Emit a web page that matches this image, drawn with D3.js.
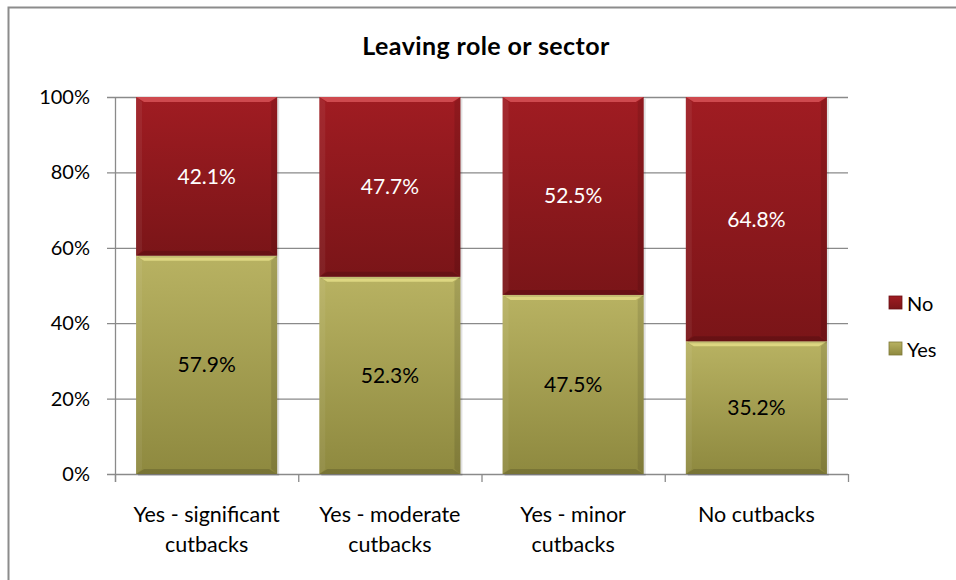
<!DOCTYPE html>
<html><head><meta charset="utf-8">
<script src="https://cdn.jsdelivr.net/npm/d3@7"></script>
<style>body{margin:0;background:#fff}svg{display:block;font-family:Lato,"Open Sans",sans-serif}</style>
</head><body><svg id="c" width="956" height="580"></svg>
<script>
const categories = [["Yes - significant","cutbacks"],["Yes - moderate","cutbacks"],["Yes - minor","cutbacks"],["No cutbacks"]];
const yesValues = [57.9, 52.3, 47.5, 35.2];
const noValues = [42.1, 47.7, 52.5, 64.8];
const yTicks = [0, 20, 40, 60, 80, 100];
const seriesNames = ["Yes", "No"];

const svg = d3.select("#c");
const m = {l:115, r:848, t:97, b:474};

svg.append("rect").attr("x",8.5).attr("y",7.5).attr("width",1000).attr("height",1000)
  .attr("fill","#fff").attr("stroke","#8c8c8c").attr("stroke-width",2);

const defs = svg.append("defs");
function grad(id, c1, c2){
  const g = defs.append("linearGradient").attr("id",id).attr("x1",0).attr("y1",0).attr("x2",0).attr("y2",1);
  g.append("stop").attr("offset","0%").attr("stop-color",c1);
  g.append("stop").attr("offset","100%").attr("stop-color",c2);
}
grad("gNo","#a01c22","#7a1518");
grad("gYes","#b8b262","#8e893f");

const x = d3.scaleBand().domain(d3.range(categories.length)).range([m.l,m.r]).paddingInner(0.23).paddingOuter(0.115);
const y = d3.scaleLinear().domain([0,100]).range([m.b,m.t]);

svg.append("g").selectAll("line").data(yTicks).join("line")
  .attr("x1",107).attr("x2",m.r).attr("y1",d=>y(d)+0.5).attr("y2",d=>y(d)+0.5)
  .attr("stroke","#8a8a8a").attr("stroke-width",1.3);

svg.append("line").attr("x1",m.l+0.5).attr("x2",m.l+0.5).attr("y1",m.t).attr("y2",m.b+8).attr("stroke","#8a8a8a").attr("stroke-width",1.3);
svg.append("g").selectAll("text").data(yTicks).join("text")
  .attr("x",90).attr("y",d=>y(d)+7).attr("text-anchor","end").attr("font-size",20).attr("fill","#000")
  .text(d=>d+"%");

const catW = (m.r-m.l)/categories.length;
svg.append("g").selectAll("line").data(d3.range(categories.length+1)).join("line")
  .attr("x1",i=>m.l+i*catW+0.5).attr("x2",i=>m.l+i*catW+0.5).attr("y1",m.b).attr("y2",m.b+8)
  .attr("stroke","#8a8a8a").attr("stroke-width",1.3);

const stacks = d3.stack().keys(seriesNames)(categories.map((c,i)=>({Yes:yesValues[i],No:noValues[i]})));
const fills = {Yes:"url(#gYes)", No:"url(#gNo)"};
const hi = {Yes:"#e6e08a", No:"#d9555a"};
stacks.forEach(s=>{
  const g = svg.append("g");
  s.forEach((d,i)=>{
    const x0 = x(i), bw = x.bandwidth(), y0 = y(d[1]), h = y(d[0])-y(d[1]);
    g.append("rect").attr("x",x0+2).attr("y",y0+2).attr("width",bw).attr("height",h).attr("fill","#000").attr("opacity",0.12);
    g.append("rect").attr("x",x0).attr("y",y0).attr("width",bw).attr("height",h).attr("fill",fills[s.key]);
    g.append("polygon").attr("points",`${x0},${y0} ${x0+bw},${y0} ${x0+bw-8},${y0+5} ${x0+8},${y0+5}`).attr("fill",hi[s.key]).attr("opacity",0.8);
    g.append("polygon").attr("points",`${x0},${y0+h} ${x0+bw},${y0+h} ${x0+bw-8},${y0+h-5} ${x0+8},${y0+h-5}`).attr("fill","#000").attr("opacity",0.15);
    g.append("polygon").attr("points",`${x0},${y0} ${x0+6},${y0+5} ${x0+6},${y0+h-5} ${x0},${y0+h}`).attr("fill","#fff").attr("opacity",0.06);
    g.append("polygon").attr("points",`${x0+bw},${y0} ${x0+bw-6},${y0+5} ${x0+bw-6},${y0+h-5} ${x0+bw},${y0+h}`).attr("fill","#000").attr("opacity",0.1);
    g.append("text").attr("x",x0+bw/2).attr("y",y0+h/2+7.5).attr("text-anchor","middle").attr("font-size",21)
      .attr("fill", s.key==="No" ? "#fff" : "#000").text(d.data[s.key].toFixed(1)+"%");
  });
});

categories.forEach((c,i)=>{
  const cx = m.l+(i+0.5)*catW;
  const t = svg.append("text").attr("x",cx).attr("y",522).attr("text-anchor","middle").attr("font-size",21.5).attr("fill","#000");
  c.forEach((line,j)=>t.append("tspan").attr("x",cx).attr("dy",j?30:0).text(line));
});

svg.append("text").attr("x",486).attr("y",55).attr("text-anchor","middle").attr("font-size",25).attr("font-weight","bold").attr("letter-spacing",0.4).text("Leaving role or sector");

const leg = [{k:"No",y:303},{k:"Yes",y:349}];
leg.forEach(l=>{
  svg.append("rect").attr("x",889).attr("y",l.y-7).attr("width",13).attr("height",13).attr("fill",fills[l.k]).attr("stroke",l.k==="No"?"#6a1014":"#7d7838").attr("stroke-width",0.8);
  svg.append("text").attr("x",907).attr("y",l.y+7.5).attr("font-size",20).text(l.k);
});
</script></body></html>
